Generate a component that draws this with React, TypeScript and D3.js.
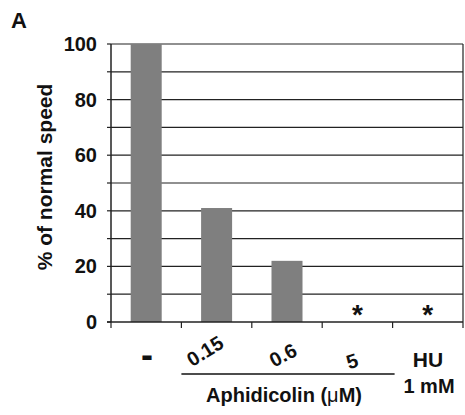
import React from "react";
import * as d3 from "d3";

const categories = ["-", "0.15", "0.6", "5", "HU"];
const values = [100, 41, 22, 0, 0];
const starred = [false, false, false, true, true];
const yTicks = [0, 20, 40, 60, 80, 100];
const gridValues = [10, 20, 30, 40, 50, 60, 70, 80, 90, 100];

export default function App() {
  const W = 465, H = 415;
  const left = 111, right = 463, top = 44, bottom = 322;
  const x = d3.scaleBand<string>().domain(categories).range([left, right]).paddingInner(0).paddingOuter(0);
  const y = d3.scaleLinear().domain([0, 100]).range([bottom, top]);
  const barW = 31;
  const font = "'Liberation Sans', Arial, sans-serif";
  const bw = x.bandwidth();
  const labelRot = [0, -32, -28, -18, 0];
  const centers = [
    [147, 367],
    [205, 351],
    [283, 355],
    [352, 361],
    [428, 367],
  ];
  const mat = (a: number, tx: number, ty: number) => {
    const r = (a * Math.PI) / 180;
    const c = Math.cos(r), s = Math.sin(r);
    return `matrix(${c.toFixed(4)},${s.toFixed(4)},${(-s).toFixed(4)},${c.toFixed(4)},${tx},${ty})`;
  };
  return (
    <svg width={W} height={H} style={{ position: "absolute", left: 0, top: 0 }} fontFamily={font}>
      <rect width={W} height={H} fill="#fff" />
      <text x={11} y={28} fontSize={22} fontWeight="bold" fill="#111">A</text>
      {gridValues.map((v) => (
        <line key={v} x1={left} x2={right} y1={y(v)} y2={y(v)} stroke="#222" strokeWidth={1.2} />
      ))}
      <line x1={right} x2={right} y1={top} y2={bottom} stroke="#222" strokeWidth={1.2} />
      {categories.map((c, i) => (
        <rect key={c} x={x(c)! + bw / 2 - barW / 2} width={barW} y={y(values[i])} height={bottom - y(values[i])} fill="#7f7f7f" />
      ))}
      {[0, ...gridValues].map((v) => (
        <line key={"t" + v} x1={left - 4} x2={left} y1={y(v)} y2={y(v)} stroke="#222" strokeWidth={1.2} />
      ))}
      <line x1={left} x2={left} y1={top} y2={bottom} stroke="#222" strokeWidth={1.5} />
      <line x1={left - 4} x2={right} y1={bottom} y2={bottom} stroke="#222" strokeWidth={1.5} />
      {categories.map((c) => (
        <line key={"xt" + c} x1={x(c)!} x2={x(c)!} y1={bottom} y2={bottom + 6} stroke="#222" strokeWidth={1.2} />
      ))}
      <line x1={right} x2={right} y1={bottom} y2={bottom + 6} stroke="#222" strokeWidth={1.2} />
      {yTicks.map((v) => (
        <text key={"yl" + v} x={97} y={y(v) + 7} textAnchor="end" fontSize={20} fontWeight="bold" fill="#111">{v}</text>
      ))}
      <text transform={`translate(52,177) rotate(-90)`} textAnchor="middle" fontSize={21} fontWeight="bold" fill="#111">% of normal speed</text>
      {categories.map((c, i) => starred[i] ? (
        <text key={"s" + c} x={x(c)! + bw / 2} y={bottom + 2} textAnchor="middle" fontSize={28} fontWeight="bold" fill="#111">*</text>
      ) : null)}
      {categories.map((c, i) => {
        const [cx, cy] = centers[i];
        if (i === 0) {
          return <text key={"xl" + c} x={cx} y={cy} textAnchor="middle" fontSize={36} fontWeight="bold" fill="#111">{c}</text>;
        }
        if (i === 4) {
          return <text key={"xl" + c} x={cx} y={cy} textAnchor="middle" fontSize={21} fontWeight="bold" fill="#111">{c}</text>;
        }
        return (
          <text key={"xl" + c} transform={mat(labelRot[i], cx, cy)} x={0} y={7} textAnchor="middle" fontSize={20} fontWeight="bold" fill="#111">{c}</text>
        );
      })}
      <line x1={x("0.15")!} x2={x("5")! + bw + 2} y1={374} y2={374} stroke="#111" strokeWidth={1.5} />
      <text x={284} y={402} textAnchor="middle" fontSize={20} fontWeight="bold" fill="#111">Aphidicolin (<tspan fontWeight="normal">μ</tspan>M)</text>
      <text x={429} y={393} textAnchor="middle" fontSize={20} fontWeight="bold" fill="#111">1 mM</text>
    </svg>
  );
}
